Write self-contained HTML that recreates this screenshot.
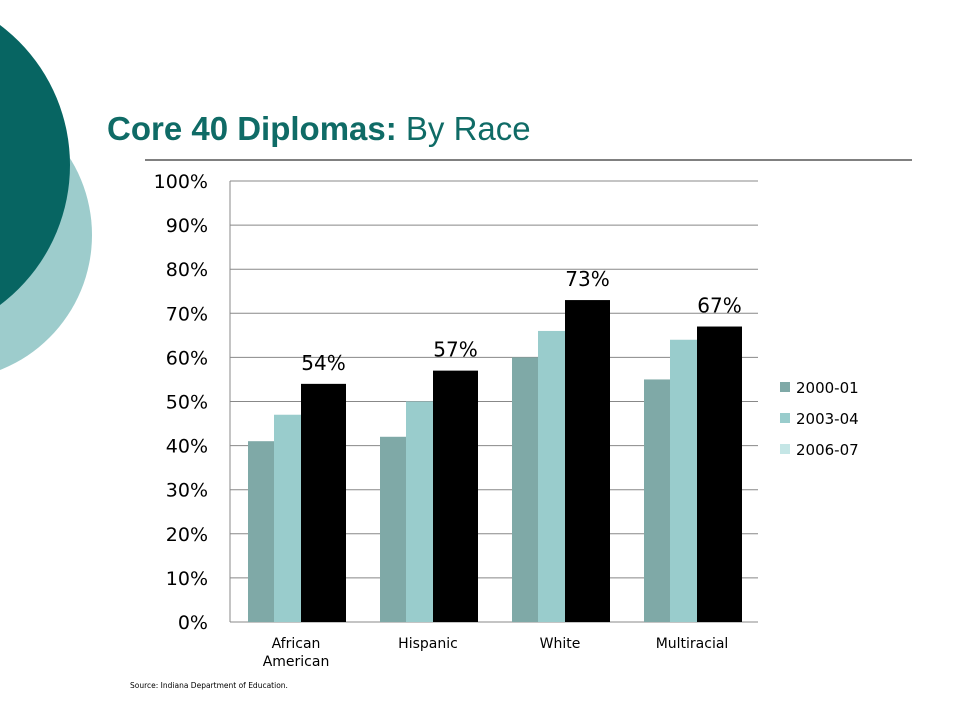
<!DOCTYPE html>
<html><head><meta charset="utf-8"><style>
body{margin:0;width:960px;height:720px;overflow:hidden;background:#fff;font-family:"DejaVu Sans","Liberation Sans",sans-serif}
</style></head><body>
<svg width="960" height="720">
<circle cx="-53" cy="235" r="145" fill="#9dcccc"/>
<circle cx="-105" cy="165" r="175" fill="#076562"/>
<text x="107" y="140" font-family="Liberation Sans, sans-serif" font-size="33" fill="#0f6b66"><tspan font-weight="bold">Core 40 Diplomas:</tspan> By Race</text>
<line x1="145" y1="160" x2="912" y2="160" stroke="#000" stroke-width="1"/>
<g id="chart"></g>
<text x="130" y="688" font-size="7.5" fill="#000">Source:  Indiana Department of Education.</text>
</svg>
<script>
const categories=[["African","American"],["Hispanic"],["White"],["Multiracial"]];
const s2000=[41,42,60,55];
const s2003=[47,50,66,64];
const s2006=[54,57,73,67];
const seriesNames=["2000-01","2003-04","2006-07"];
const ticks=[0,10,20,30,40,50,60,70,80,90,100];
const NS="http://www.w3.org/2000/svg";
const g=document.getElementById('chart');
const X0=230,X1=758,Y0=622,Y1=181;
const y=v=>Y0-(v/100)*(Y0-Y1);
const gw=(X1-X0)/categories.length;
function mk(t,a,txt){const e=document.createElementNS(NS,t);for(const k in a)e.setAttribute(k,a[k]);if(txt!==undefined)e.textContent=txt;g.appendChild(e);return e;}
ticks.forEach(t=>{
 const l=mk('line',{x1:X0,x2:X1,y1:y(t),y2:y(t),stroke:'#888','stroke-width':1});
 
 
 const tx=mk('text',{x:208,y:y(t)+7,'text-anchor':'end','font-size':19,fill:'#000'},t+'%');
 
 
});
const ax=mk('line',{x1:X0,x2:X0,y1:Y1,y2:Y0,stroke:'#888'});


const cols=['#7fa9a7','#99cccc','#000'];
const offs=[[18,26],[44,27],[71,45]];
const data=[s2000,s2003,s2006];
categories.forEach((c,i)=>{
 const gx=X0+i*gw;
 data.forEach((s,j)=>{
  const r=mk('rect',{x:gx+offs[j][0],y:y(s[i]),width:offs[j][1],height:Y0-y(s[i]),fill:cols[j]});
  
  
 });
 const lb=mk('text',{x:gx+offs[2][0]+offs[2][1]/2,y:y(s2006[i])-14,'text-anchor':'middle','font-size':20,fill:'#000'},s2006[i]+'%');
 
 
 c.forEach((line,k)=>{
  const t=mk('text',{x:gx+gw/2,y:648+k*18,'text-anchor':'middle','font-size':14,fill:'#000'},line);
  
  
 });
});
const lcols=['#7fa9a7','#99cccc','#c5e6e6'];
seriesNames.forEach((n,j)=>{
 const sw=mk('rect',{x:780,y:382+j*31,width:10,height:10,fill:lcols[j]});
 
 
 const t=mk('text',{x:796,y:393+j*31,'font-size':15,fill:'#000'},n);
 
 
});
</script>
</body></html>
